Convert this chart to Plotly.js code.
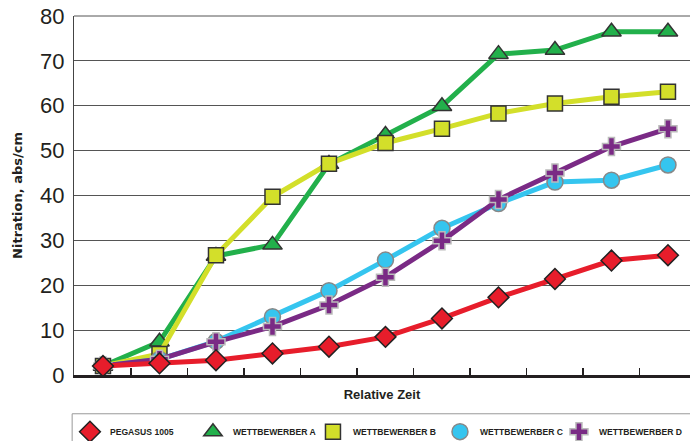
<!DOCTYPE html>
<html><head><meta charset="utf-8">
<script src="https://cdn.plot.ly/plotly-3.0.1.min.js"></script>
<style>html,body{margin:0;padding:0;background:#fff}</style>
</head><body>
<div id="chart" style="width:690px;height:441px"></div>
<script>
const xPoints = [0,1,2,3,4,5,6,7,8,9,10];
const tickPositions = [0.5,1.5,2.5,3.5,4.5,5.5,6.5,7.5,8.5,9.5];
const pegasus = [2.0,2.6,3.3,4.8,6.3,8.5,12.6,17.3,21.4,25.5,26.7];
const wettA = [2.0,7.4,26.5,29.0,47.0,53.5,59.9,71.5,72.4,76.5,76.5];
const wettB = [2.0,4.7,26.7,39.7,47.1,51.7,54.9,58.3,60.5,62.0,63.1];
const wettC = [2.0,3.5,7.5,13.0,18.8,25.6,32.7,38.2,43.0,43.4,46.8];
const wettD = [2.0,3.5,7.4,10.8,15.6,21.8,29.9,39.1,45.0,50.9,54.9];
const names = ['PEGASUS 1005','WETTBEWERBER A','WETTBEWERBER B','WETTBEWERBER C','WETTBEWERBER D'];
const yTicks = [0,10,20,30,40,50,60,70,80];

const styles = {
  'PEGASUS 1005':   {color:'#e71d2b', symbol:'diamond', size:16, lc:'#222', rank:1, lw:78},
  'WETTBEWERBER A': {color:'#22b04b', symbol:'triangle-up', size:17, lc:'#333', rank:2, lw:75},
  'WETTBEWERBER B': {color:'#d3df2a', symbol:'square', size:15, lc:'#333', rank:3, lw:82},
  'WETTBEWERBER C': {color:'#35c5ef', symbol:'circle', size:16, lc:'#888', rank:4, lw:74},
  'WETTBEWERBER D': {color:'#7a2a85', symbol:'cross', size:15, lc:'#bbb', rank:5, lw:84}
};
function tr(y, name){
  const s = styles[name];
  return {x:xPoints, y:y, name:name, type:'scatter', mode:'lines+markers',
    line:{color:s.color, width:5},
    marker:{color:s.color, symbol:s.symbol, size:s.size, line:{color:s.lc, width:1.5}},
    showlegend:false};
}
function leg(name){
  const s = styles[name];
  return {x:[null], y:[null], name:name, type:'scatter', mode:'markers',
    marker:{color:s.color, symbol:s.symbol, size:s.size, line:{color:s.lc, width:1.5}},
    legendrank:s.rank, legendwidth:s.lw, showlegend:true};
}
const data = [
  tr(wettA, names[1]), tr(wettB, names[2]), tr(wettC, names[3]), tr(wettD, names[4]), tr(pegasus, names[0]),
  leg(names[0]), leg(names[1]), leg(names[2]), leg(names[3]), leg(names[4])
];
const layout = {
  width:690, height:441,
  margin:{l:74, r:0, t:16, b:66},
  paper_bgcolor:'#fff', plot_bgcolor:'#fff',
  font:{family:'Liberation Sans, Arial, sans-serif', color:'#231f20'},
  showlegend:true,
  legend:{orientation:'h', xref:'container', yref:'container', x:0.1014, xanchor:'left', y:0.054, yanchor:'top',
    font:{size:8.6, family:'Liberation Sans, Arial, sans-serif', weight:'bold', color:'#231f20'},
    bgcolor:'rgba(0,0,0,0)', borderwidth:0, itemwidth:30, tracegroupgap:0},
  xaxis:{range:[-0.513, 10.39], tickvals:tickPositions, showticklabels:false,
    ticks:'inside', ticklen:7, tickwidth:1.5, tickcolor:'#231f20',
    showgrid:false, zeroline:false, showline:true, linecolor:'#231f20', linewidth:2.5,
    title:{text:'<b>Relative Zeit</b>', font:{size:13, color:'#231f20'}, standoff:14}},
  yaxis:{range:[0,80], tickvals:yTicks, ticktext:yTicks.map(String),
    tickfont:{size:22, color:'#231f20'}, ticks:'',
    showgrid:true, gridcolor:'#555', gridwidth:1, zeroline:false,
    showline:true, linecolor:'#444', linewidth:1,
    ticklabelstandoff:4,
    title:{text:'<b>Nitration, abs/cm</b>', font:{size:13, family:'DejaVu Sans, sans-serif', color:'#231f20'}, standoff:14}},
  shapes:[
    {type:'rect', xref:'paper', yref:'paper', x0:-0.003, x1:1.02, y0:-0.108, y1:-0.25,
     line:{color:'#999', width:1}, fillcolor:'rgba(0,0,0,0)'},
    {type:'line', xref:'paper', yref:'paper', x0:0, x1:1, y0:1, y1:1, line:{color:'#555', width:1}}
  ]
};
Plotly.newPlot('chart', data, layout, {displayModeBar:false, staticPlot:true});
</script>
</body></html>
